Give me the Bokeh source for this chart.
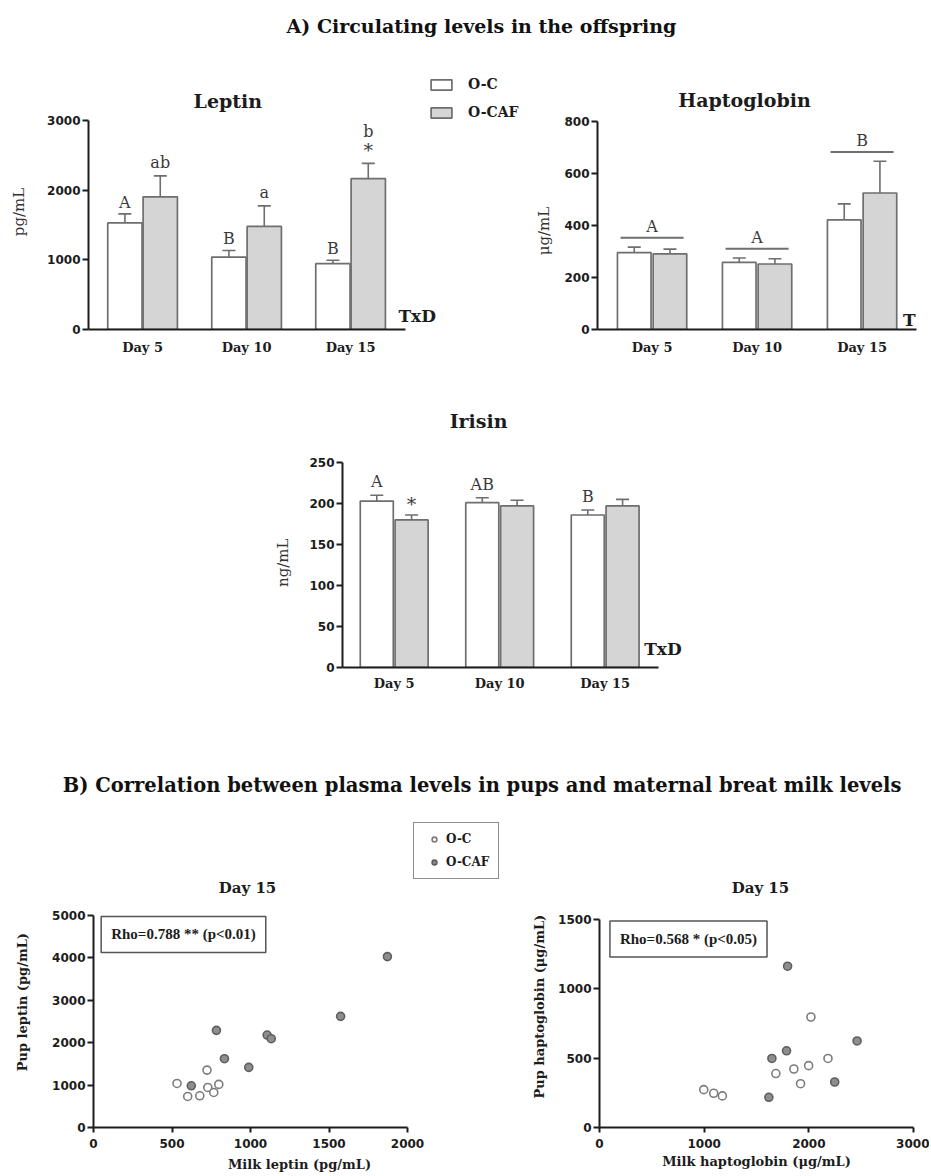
import numpy as np
from bokeh.plotting import figure
from bokeh.models import (ColumnDataSource, Whisker, TeeHead, LabelSet, Label, Legend,
                          LegendItem, FixedTicker, Spacer, Range1d, Plot)
from bokeh.layouts import column, row
from bokeh.core.properties import value
from bokeh.embed import file_html
from bokeh.resources import INLINE

# ---------------- data ----------------
days = ["Day 5", "Day 10", "Day 15"]
groups = ["O-C", "O-CAF"]

leptin_oc = [1530, 1040, 945]
leptin_oc_sem = [130, 95, 50]
leptin_caf = [1905, 1480, 2165]
leptin_caf_sem = [300, 295, 220]
leptin_oc_letters = ["A", "B", "B"]
leptin_caf_letters = ["ab", "a", "b"]
leptin_caf_star = ["", "", "*"]

hapto_oc = [296, 258, 422]
hapto_oc_sem = [21, 17, 61]
hapto_caf = [291, 252, 525]
hapto_caf_sem = [18, 20, 122]
hapto_day_letters = ["A", "A", "B"]

irisin_oc = [203, 201, 186]
irisin_oc_sem = [7, 6, 6]
irisin_caf = [180, 197, 197]
irisin_caf_sem = [6, 7, 8]
irisin_oc_letters = ["A", "AB", "B"]
irisin_caf_star = ["*", "", ""]

milk_leptin_oc = [532, 600, 677, 723, 728, 766, 798]
pup_leptin_oc = [1039, 732, 748, 1354, 945, 827, 1016]
milk_leptin_caf = [623, 783, 834, 989, 1106, 1132, 1574, 1872]
pup_leptin_caf = [984, 2291, 1622, 1417, 2181, 2094, 2622, 4031]

milk_hapto_oc = [996, 1091, 1174, 1685, 1857, 1921, 1998, 2020, 2183]
pup_hapto_oc = [273, 247, 228, 389, 422, 316, 446, 797, 498]
milk_hapto_caf = [1618, 1647, 1787, 1797, 2247, 2461]
pup_hapto_caf = [218, 498, 553, 1163, 328, 624]

# ---------------- style ----------------
SERIF = "DejaVu Serif"
SANS = "DejaVu Sans"
INK = "#1c1c1c"
OUT = "#6e6e6e"
CAF_FILL = "#d5d5d5"
NB = "\u00a0"   # used to slide rotated axis labels toward the axis origin


def style_axes(p):
    p.grid.visible = False
    p.outline_line_color = None
    p.background_fill_color = "white"
    p.border_fill_color = "white"
    for ax in p.axis:
        ax.axis_line_width = 2
        ax.axis_line_color = INK
        ax.major_tick_line_width = 2
        ax.major_tick_line_color = INK
        ax.major_tick_out = 6
        ax.major_tick_in = 0
        ax.minor_tick_line_color = None
        ax.major_label_text_font = SANS
        ax.major_label_text_font_style = "bold"
        ax.major_label_text_font_size = "12px"
        ax.major_label_text_color = INK
        ax.major_label_standoff = 2


def chart_title(p, x, y, text, size):
    p.add_layout(Label(x=x, y=y, text=text, text_align="center", text_baseline="middle",
                       text_font=SERIF, text_font_style="bold", text_font_size=size,
                       text_color=INK))


def bar_panel(title, title_xy, ylabel, yend, yticks, oc, oc_sem, caf, caf_sem,
              width, height, mb, xr, xbound_end, yr_end, bw, off, ylab_standoff,
              xlab_standoff, shift):
    p = figure(width=width, height=height, x_range=Range1d(*xr), y_range=Range1d(0, yr_end),
               output_backend="svg", toolbar_location=None, title=None,
               min_border_left=mb[0], min_border_right=mb[1],
               min_border_top=mb[2], min_border_bottom=mb[3])
    xi = np.arange(1, len(days) + 1)
    src_oc = ColumnDataSource(dict(x=xi - off, top=oc,
                                   upper=np.array(oc) + np.array(oc_sem)))
    src_caf = ColumnDataSource(dict(x=xi + off, top=caf,
                                    upper=np.array(caf) + np.array(caf_sem)))
    r_oc = p.vbar(x="x", top="top", bottom=0, width=bw, source=src_oc,
                  fill_color="white", line_color=OUT, line_width=1.7)
    r_caf = p.vbar(x="x", top="top", bottom=0, width=bw, source=src_caf,
                   fill_color=CAF_FILL, line_color=OUT, line_width=1.7)
    for src in (src_oc, src_caf):
        p.add_layout(Whisker(source=src, base="x", lower="top", upper="upper",
                             dimension="height", line_color=OUT, line_width=1.6,
                             upper_head=TeeHead(size=13, line_color=OUT, line_width=1.6),
                             lower_head=None))
    style_axes(p)
    chart_title(p, title_xy[0], title_xy[1], title, "19px")
    p.xaxis.bounds = (xr[0], xbound_end)
    p.yaxis.bounds = (0, yend)
    p.xaxis.ticker = FixedTicker(ticks=[float(v) for v in xi])
    p.xaxis.major_label_overrides = {float(v): d for v, d in zip(xi, days)}
    p.xaxis.major_tick_line_color = None
    p.xaxis.major_label_text_font = SERIF
    p.xaxis.major_label_text_font_size = "13px"
    p.xaxis.major_label_standoff = xlab_standoff
    p.yaxis.ticker = FixedTicker(ticks=yticks)
    p.yaxis.axis_label = ylabel + NB * shift
    p.yaxis.axis_label_text_font = SERIF
    p.yaxis.axis_label_text_font_style = "normal"
    p.yaxis.axis_label_text_font_size = "15px"
    p.yaxis.axis_label_text_color = "#333333"
    p.yaxis.axis_label_standoff = ylab_standoff
    return p, r_oc, r_caf, src_oc, src_caf


def letters(p, src, texts, yoffs, size="16px"):
    d = dict(x=src.data["x"], y=src.data["upper"], text=texts, yoff=yoffs)
    p.add_layout(LabelSet(source=ColumnDataSource(d), x="x", y="y", text="text",
                          y_offset="yoff", text_align="center", text_baseline="bottom",
                          text_font=value(SERIF), text_font_size=size,
                          text_color="#3a3a3a"))


def side_label(p, x, y, text):
    p.add_layout(Label(x=x, y=y, text=text, text_font=SERIF, text_font_style="bold",
                       text_font_size="17px", text_baseline="middle", text_color=INK))


# ---------------- Leptin ----------------
lep, lep_oc, lep_caf, lep_src_oc, lep_src_caf = bar_panel(
    "Leptin", (1.82, 3287), "pg/mL", 3000, [0, 1000, 2000, 3000], leptin_oc, leptin_oc_sem,
    leptin_caf, leptin_caf_sem, 522, 320, (88, 0, 10, 51), (0.48, 4.653), 3.53,
    3000 * 259 / 209, 0.33, 0.17, 16, 4, 5)
letters(lep, lep_src_oc, leptin_oc_letters, [2, 2, 2])
letters(lep, lep_src_caf, leptin_caf_star, [2, 2, 2], size="19px")
letters(lep, lep_src_caf, leptin_caf_letters,
        [4 + (18 if s else 0) for s in leptin_caf_star])
side_label(lep, 3.46, 187, "TxD")
legend = Legend(items=[LegendItem(label=groups[0], renderers=[lep_oc]),
                       LegendItem(label=groups[1], renderers=[lep_caf])],
                location=(340, 209), orientation="vertical",
                glyph_width=26, glyph_height=13, label_height=13, spacing=12,
                label_standoff=14, padding=0, margin=0,
                border_line_color=None, background_fill_alpha=0,
                label_text_font=SERIF, label_text_font_style="bold",
                label_text_font_size="14px", label_text_color=INK)
lep.add_layout(legend)

# ---------------- Haptoglobin ----------------
hap, hap_oc, hap_caf, hap_src_oc, hap_src_caf = bar_panel(
    "Haptoglobin", (1.88, 881), "\u03bcg/mL", 800, [0, 200, 400, 600, 800], hapto_oc,
    hapto_oc_sem, hapto_caf, hapto_caf_sem, 406, 320, (75, 3, 10, 51), (0.48, 3.604), 3.52,
    800 * 259 / 208, 0.32, 0.17, 8, 4, 13)
hx = np.arange(1, len(days) + 1)
hy = np.maximum(np.array(hapto_oc) + np.array(hapto_oc_sem),
                np.array(hapto_caf) + np.array(hapto_caf_sem)) + 36
hap.segment(x0=hx - 0.3, x1=hx + 0.3, y0=hy, y1=hy, line_color=OUT, line_width=2)
hap.add_layout(LabelSet(source=ColumnDataSource(dict(x=hx, y=hy, text=hapto_day_letters)),
                        x="x", y="y", text="text", y_offset=2, text_align="center",
                        text_baseline="bottom", text_font=value(SERIF),
                        text_font_size="16px", text_color="#3a3a3a"))
side_label(hap, 3.39, 35, "T")

# ---------------- Irisin ----------------
iri, iri_oc, iri_caf, iri_src_oc, iri_src_caf = bar_panel(
    "Irisin", (1.80, 301), "ng/mL", 250, [0, 50, 100, 150, 200, 250], irisin_oc,
    irisin_oc_sem, irisin_caf, irisin_caf_sem, 425, 380, (80, 5, 25, 93), (0.51, 3.733),
    3.507, 250 * 262 / 205, 0.313, 0.165, 14, 2, 11)
letters(iri, iri_src_oc, irisin_oc_letters, [4, 4, 4])
letters(iri, iri_src_caf, irisin_caf_star, [0, 0, 0], size="19px")
side_label(iri, 3.37, 23, "TxD")


# ---------------- Scatter ----------------
def scatter_panel(xlabel, ylabel, xmax, ymax, xr_end, yr_end, xticks, yticks,
                  xoc, yoc, xcaf, ycaf, width, height, mb, ylab_standoff, xlab_standoff,
                  title_xy, rho_text, rho_x, rho_y, shift):
    p = figure(width=width, height=height, x_range=Range1d(0, xr_end),
               y_range=Range1d(0, yr_end), output_backend="svg", toolbar_location=None,
               title=None, min_border_left=mb[0], min_border_right=mb[1],
               min_border_top=mb[2], min_border_bottom=mb[3])
    r_oc = p.scatter(xoc, yoc, marker="circle", size=8, fill_color="white",
                     line_color="#7c7c7c", line_width=1.6)
    r_caf = p.scatter(xcaf, ycaf, marker="circle", size=8, fill_color="#8e8e8e",
                      line_color="#5e5e5e", line_width=1.6)
    style_axes(p)
    chart_title(p, title_xy[0], title_xy[1], "Day 15", "15px")
    p.xaxis.bounds = (0, xmax)
    p.yaxis.bounds = (0, ymax)
    p.xaxis.ticker = FixedTicker(ticks=xticks)
    p.yaxis.ticker = FixedTicker(ticks=yticks)
    p.xaxis.major_tick_out = 5
    p.yaxis.major_tick_out = 6
    p.xaxis.major_label_standoff = 6
    for ax, lab in ((p.xaxis, xlabel), (p.yaxis, ylabel + NB * shift)):
        ax.axis_label = lab
        ax.axis_label_text_font = SERIF
        ax.axis_label_text_font_style = "bold"
        ax.axis_label_text_font_size = "13px"
        ax.axis_label_text_color = INK
    p.xaxis.axis_label_standoff = xlab_standoff
    p.yaxis.axis_label_standoff = ylab_standoff
    p.add_layout(Label(x=rho_x, y=rho_y, text=rho_text, text_align="center",
                       text_baseline="middle", text_font="Liberation Serif",
                       text_font_style="bold", text_font_size="15px", text_color=INK,
                       border_line_color="#555555", border_line_width=1.5,
                       background_fill_color="white", padding=10))
    return p, r_oc, r_caf


sc1, s1_oc, s1_caf = scatter_panel(
    "Milk leptin (pg/mL)", "Pup leptin (pg/mL)", 2000, 5000, 2000 * 412 / 314,
    5000 * 305 / 212, [0, 500, 1000, 1500, 2000], [0, 1000, 2000, 3000, 4000, 5000],
    milk_leptin_oc, pup_leptin_oc, milk_leptin_caf, pup_leptin_caf,
    510, 374, (93, 5, 22, 47), 19, 6, (981, 5637),
    "Rho=0.788 ** (p<0.01)", 573, 4552, 12)
sc_legend = Legend(items=[LegendItem(label=groups[0], renderers=[s1_oc]),
                          LegendItem(label=groups[1], renderers=[s1_caf])],
                   location=(320, 248), orientation="vertical",
                   glyph_width=22, glyph_height=12, label_height=12, spacing=9,
                   label_standoff=1, padding=9, margin=0,
                   border_line_color=INK, border_line_width=1.5,
                   background_fill_color="white",
                   label_text_font=SERIF, label_text_font_style="bold",
                   label_text_font_size="12px", label_text_color=INK)
sc1.add_layout(sc_legend)

sc2, s2_oc, s2_caf = scatter_panel(
    "Milk haptoglobin (\u03bcg/mL)", "Pup haptoglobin (\u03bcg/mL)", 3000, 1500, 3000,
    1500 * 305 / 208, [0, 1000, 2000, 3000], [0, 500, 1000, 1500],
    milk_hapto_oc, pup_hapto_oc, milk_hapto_caf, pup_hapto_caf,
    419, 374, (89, 16, 22, 47), 8, 3, (1538, 1724),
    "Rho=0.568 * (p<0.05)", 850, 1359, 14)


# ---------------- section titles ----------------
def section_title(text, width, height, cx, cy_from_bottom, size):
    t = Plot(width=width, height=height, x_range=Range1d(0, 1), y_range=Range1d(0, 1),
             output_backend="svg", toolbar_location=None, min_border=0,
             outline_line_color=None, background_fill_color="white",
             border_fill_color="white")
    t.add_layout(Label(x=cx, y=cy_from_bottom, x_units="screen", y_units="screen",
                       text=text, text_align="center", text_baseline="middle",
                       text_font=SERIF, text_font_style="bold", text_font_size=size,
                       text_color="#111111"))
    return t


title_a = section_title("A) Circulating levels in the offspring", 929, 60, 481, 35, "19px")
title_b = section_title("B) Correlation  between plasma levels in pups and maternal "
                        "breat milk levels", 929, 40, 485, 15, "19.5px")

page = column(title_a,
              row(lep, hap),
              row(Spacer(width=262, height=380), iri),
              title_b,
              row(sc1, sc2))

open("out.html", "w").write(file_html(page, INLINE))
